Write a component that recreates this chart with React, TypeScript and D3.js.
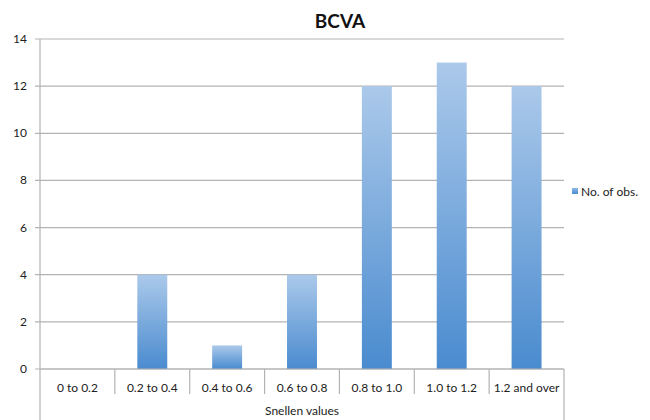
import React from "react";
import * as d3 from "d3";

const categories = ["0 to 0.2", "0.2 to 0.4", "0.4 to 0.6", "0.6 to 0.8", "0.8 to 1.0", "1.0 to 1.2", "1.2 and over"];
const observations = [0, 4, 1, 4, 12, 13, 12];
const yTicks = [0, 2, 4, 6, 8, 10, 12, 14];
const seriesName = "No. of obs.";
const chartTitle = "BCVA";
const xTitle = "Snellen values";

const W = 650;
const H = 420;
const left = 40;
const right = 564;
const top = 39;
const bottom = 369;
const font = "Lato, 'Open Sans', sans-serif";

export default function App() {
  const x = d3.scaleBand<string>().domain(categories).range([left, right]).paddingInner(0.6).paddingOuter(0.3);
  const band = d3.scaleBand<string>().domain(categories).range([left, right]);
  const y = d3.scaleLinear().domain([0, 14]).range([bottom, top]);

  return (
    <svg width={W} height={H} style={{ position: "absolute", left: 0, top: 0, background: "#fff" }}>
      <defs>
        <linearGradient id="barFill" x1="0" y1="0" x2="0" y2="1">
          <stop offset="0%" stopColor="#abc9ea" />
          <stop offset="100%" stopColor="#4a8bcf" />
        </linearGradient>
        <linearGradient id="legendFill" x1="0" y1="0" x2="0" y2="1">
          <stop offset="0%" stopColor="#8fb8e4" />
          <stop offset="100%" stopColor="#4a8bcf" />
        </linearGradient>
      </defs>

      <text x={340} y={28} textAnchor="middle" fontFamily={font} fontWeight="bold" fontSize={19} fill="#111">
        {chartTitle}
      </text>

      {yTicks.map((t) => (
        <g key={t}>
          <line x1={left - 5} x2={right} y1={y(t)} y2={y(t)} stroke="#b3b3b3" strokeWidth={1.2} />
          <text x={27} y={y(t) + 4} textAnchor="end" fontFamily={font} fontSize={12} fill="#222">
            {t}
          </text>
        </g>
      ))}

      {categories.map((c, i) => {
        const v = observations[i];
        if (v <= 0) return null;
        return (
          <rect
            key={c}
            x={x(c)}
            y={y(v)}
            width={x.bandwidth()}
            height={y(0) - y(v)}
            fill="url(#barFill)"
          />
        );
      })}

      {/* y axis and right border extend through the category table */}
      <line x1={left} x2={left} y1={top} y2={H} stroke="#b3b3b3" strokeWidth={1.2} />
      <line x1={right} x2={right} y1={bottom} y2={H} stroke="#b3b3b3" strokeWidth={1.2} />
      <line x1={left} x2={right} y1={bottom} y2={bottom} stroke="#b3b3b3" strokeWidth={1.2} />

      {categories.slice(1).map((c) => (
        <line key={c} x1={band(c)} x2={band(c)} y1={bottom} y2={394} stroke="#b3b3b3" strokeWidth={1.2} />
      ))}

      {categories.map((c) => (
        <text
          key={c}
          x={(band(c) as number) + band.bandwidth() / 2}
          y={392}
          textAnchor="middle"
          fontFamily={font}
          fontSize={12}
          fill="#222"
        >
          {c}
        </text>
      ))}

      <text x={(left + right) / 2} y={415} textAnchor="middle" fontFamily={font} fontSize={12} fill="#222">
        {xTitle}
      </text>

      <rect x={572} y={188} width={6} height={6} fill="url(#legendFill)" />
      <text x={581} y={196} fontFamily={font} fontSize={12} fill="#222">
        {seriesName}
      </text>
    </svg>
  );
}
